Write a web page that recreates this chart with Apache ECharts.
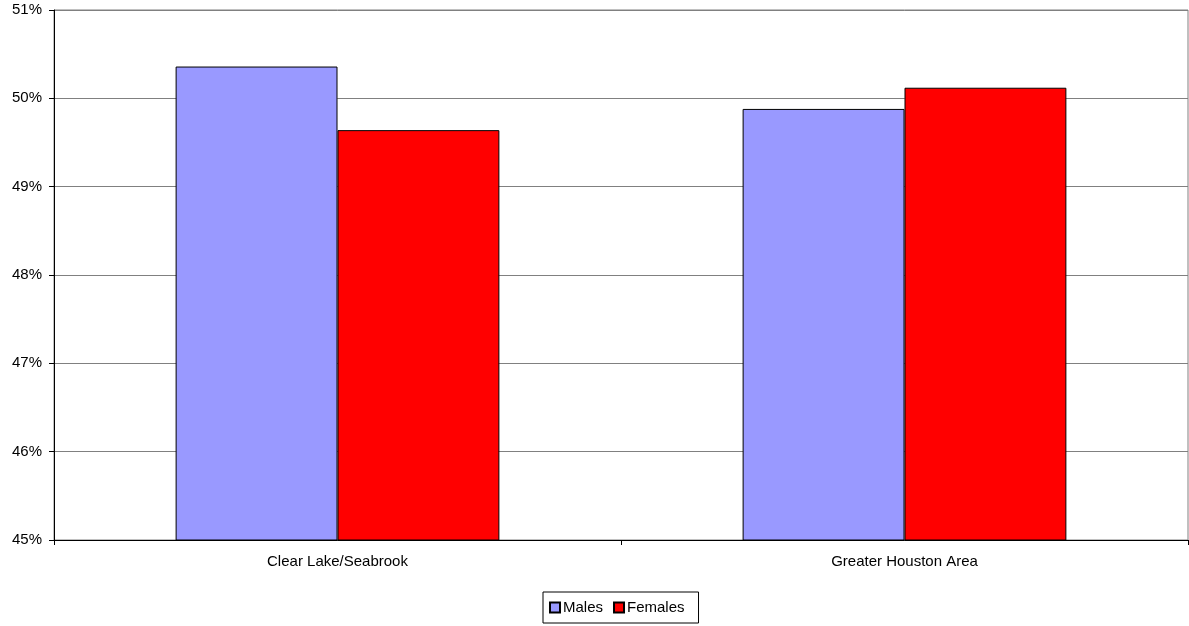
<!DOCTYPE html>
<html>
<head>
<meta charset="utf-8">
<script src="https://cdn.jsdelivr.net/npm/echarts@6/dist/echarts.min.js"></script>
<style>
html,body{margin:0;padding:0;background:#fff;}
#chart{width:1189px;height:626px;}
</style>
</head>
<body>
<div id="chart"></div>
<script>
const categories = ['Clear Lake/Seabrook', 'Greater Houston Area'];
const males = [50.36, 49.88];
const females = [49.64, 50.12];
const yTicks = { min: 45, max: 51, interval: 1 };

const chart = echarts.init(document.getElementById('chart'), null, { renderer: 'canvas' });
const font = 'Liberation Sans, Arial, sans-serif';
chart.setOption({
  animation: false,
  textStyle: { fontFamily: font },
  grid: {
    left: 54, right: 1, top: 10, bottom: 86,
    show: true, borderColor: '#808080', borderWidth: 1, backgroundColor: 'transparent'
  },
  legend: {
    data: ['Males', 'Females'],
    left: 543, top: 592,
    icon: 'rect',
    itemWidth: 10, itemHeight: 10, itemGap: 10,
    padding: [8, 14, 8, 6],
    borderColor: '#000', borderWidth: 1,
    textStyle: { fontFamily: font, fontSize: 15, color: '#000', padding: [0, 0, 0, -2] }
  },
  xAxis: {
    type: 'category',
    data: categories,
    axisLine: { lineStyle: { color: '#000', width: 1 } },
    axisTick: { show: true, alignWithLabel: false, length: 5, lineStyle: { color: '#000' } },
    axisLabel: { color: '#000', fontSize: 15, fontFamily: font, margin: 14 },
    splitLine: { show: false }
  },
  yAxis: {
    type: 'value',
    min: yTicks.min, max: yTicks.max, interval: yTicks.interval,
    axisLine: { show: true, lineStyle: { color: '#000', width: 1 } },
    axisTick: { show: true, length: 5, lineStyle: { color: '#000' } },
    axisLabel: { color: '#000', fontSize: 15, fontFamily: font, margin: 12, formatter: '{value}%' },
    splitLine: { show: true, lineStyle: { color: '#808080', width: 1 } }
  },
  series: [
    {
      name: 'Males', type: 'bar', data: males,
      barGap: '0%', barCategoryGap: '42.9%',
      itemStyle: { color: '#9999FF', borderColor: '#000', borderWidth: 1 }
    },
    {
      name: 'Females', type: 'bar', data: females,
      barGap: '0%', barCategoryGap: '42.9%',
      itemStyle: { color: '#FF0000', borderColor: '#000', borderWidth: 1 }
    }
  ]
});
</script>
</body>
</html>
